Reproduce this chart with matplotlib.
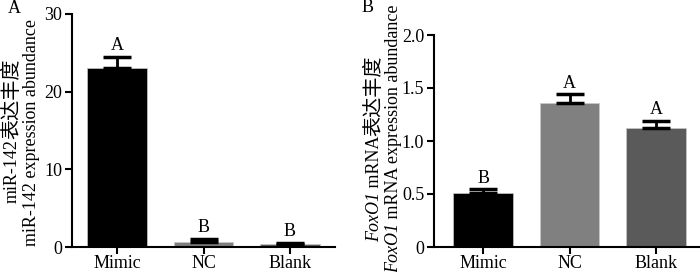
import matplotlib
matplotlib.use("Agg")
import matplotlib.pyplot as plt
import numpy as np

categories = ["Mimic", "NC", "Blank"]
mir_values = [23.0, 0.7, 0.4]
mir_errors = [1.5, 0.3, 0.15]
mir_letters = ["A", "B", "B"]
fox_values = [0.51, 1.36, 1.12]
fox_errors = [0.035, 0.08, 0.07]
fox_letters = ["B", "A", "A"]
bar_colors = ["#000000", "#808080", "#5a5a5a"]

SERIF = ["Liberation Serif", "Noto Sans CJK SC"]
CJK = ["Noto Sans CJK SC", "Liberation Serif"]
plt.rcParams['font.family'] = SERIF
FS = 13
FS_CJK = 14.5

W, H = 700, 272
fig = plt.figure(figsize=(W / 100, H / 100), dpi=100)

axA = fig.add_axes([72 / W, 25 / H, (335 - 72) / W, (247 - 14) / H])
axB = fig.add_axes([434 / W, 25 / H, (699 - 434) / W, (247 - 35) / H])

def draw(ax, vals, errs, letters, ylim, yticks, yticklabels, xlim):
    x = np.arange(len(categories))
    ax.bar(x, vals, width=0.69, color=bar_colors, edgecolor="#c8c8c8", linewidth=0.5, zorder=2)
    ax.errorbar(x, vals, yerr=[np.zeros(len(errs)), errs], fmt="none", ecolor="black",
                elinewidth=2, capsize=10, capthick=2.5, zorder=3)
    span = ylim[1] - ylim[0]
    for xi, v, e, l in zip(x, vals, errs, letters):
        ax.text(xi, v + e + span * 0.012, l, ha="center", va="bottom", fontsize=FS)
    ax.set_ylim(*ylim)
    ax.set_xlim(*xlim)
    ax.set_yticks(yticks)
    ax.set_yticklabels(yticklabels, fontsize=FS)
    ax.set_xticks(x)
    ax.set_xticklabels(categories, fontsize=FS)
    for s in ["top", "right"]:
        ax.spines[s].set_visible(False)
    for s in ["left", "bottom"]:
        ax.spines[s].set_linewidth(1.5)
    ax.tick_params(direction="out", length=5, width=1.5, pad=2)
    ax.tick_params(axis="x", pad=0.5)

draw(axA, mir_values, mir_errors, mir_letters, (0, 30), [0, 10, 20, 30],
     ["0", "10", "20", "30"], (-0.52, 2.52))
draw(axB, fox_values, fox_errors, fox_letters, (0, 2.0), [0, 0.5, 1.0, 1.5, 2.0],
     ["0", "0.5", "1.0", "1.5", "2.0"], (-0.57, 2.5))

fig.text(8 / W, 1 - 13 / H, "A", fontsize=FS, ha="left", va="baseline")
fig.text(362 / W, 1 - 12 / H, "B", fontsize=FS, ha="left", va="baseline")

# Rotated y-labels composed of pieces (italic / regular / CJK)
renderer = fig.canvas.get_renderer()

def rotated_line(x_base_px, center_from_top, pieces):
    texts = []
    for s, style, fam, fs in pieces:
        t = fig.text(0, 0, s, fontsize=fs, family=fam, style=style, rotation=90,
                     rotation_mode="anchor", ha="left", va="baseline")
        texts.append(t)
    lengths = [t.get_window_extent(renderer=renderer).height for t in texts]
    total = sum(lengths)
    y = (H - center_from_top) - total / 2
    for t, L in zip(texts, lengths):
        t.set_position((x_base_px / W, y / H))
        y += L

rotated_line(17, 131, [("miR-142", "normal", SERIF, FS), ("表达丰度", "normal", CJK, FS_CJK)])
rotated_line(36, 133, [("miR-142 expression abundance", "normal", SERIF, FS)])
rotated_line(379, 149, [("FoxO1", "italic", SERIF, FS), (" mRNA", "normal", SERIF, FS),
                        ("表达丰度", "normal", CJK, FS_CJK)])
rotated_line(398, 139, [("FoxO1", "italic", SERIF, FS),
                        (" mRNA expression abundance", "normal", SERIF, FS)])

fig.savefig("out.png", dpi=100)
